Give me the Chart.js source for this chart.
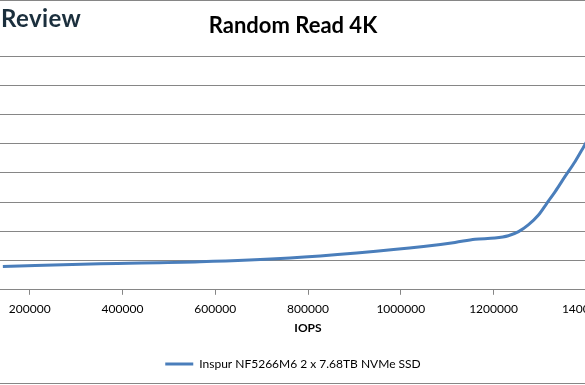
<!DOCTYPE html>
<html>
<head>
<meta charset="utf-8">
<script src="https://cdn.jsdelivr.net/npm/chart.js@4"></script>
<style>
  html, body { margin: 0; padding: 0; background: #fff; overflow: hidden; }
  body { width: 585px; height: 385px; position: relative; }
  #frame {
    position: absolute; left: -103px; top: 0; width: 792px; height: 382px;
    border-top: 1px solid #868686; border-bottom: 1px solid #868686;
  }
  #chart { display: block; }
  #logo {
    position: absolute; left: 1px; top: 6px;
    font: bold 24px Lato, sans-serif; line-height: 24px; letter-spacing: 0.4px; color: #1b2f3d;
  }
</style>
</head>
<body>
<div id="frame"><canvas id="chart" width="792" height="382"></canvas></div>
<div id="logo">Review</div>
<script>
const seriesName = 'Inspur NF5266M6 2 x 7.68TB NVMe SSD';
const iops = [142000, 352000, 567000, 761000, 905000, 1049000, 1117000, 1160000, 1203000, 1232000, 1254000, 1275000, 1297000, 1315000, 1333000, 1354000, 1376000, 1394000, 1425000];
const latency = [0.080, 0.089, 0.096, 0.109, 0.126, 0.148, 0.162, 0.173, 0.177, 0.185, 0.199, 0.222, 0.256, 0.296, 0.336, 0.387, 0.439, 0.488, 0.575];
const xTicks = [0, 200000, 400000, 600000, 800000, 1000000, 1200000, 1400000, 1600000];

const gridColor = '#868686';
const font = 'Lato, "Noto Sans", sans-serif';

const config = {
	type: 'line',
	data: {
		datasets: [
			{
				label: seriesName,
				data: iops.map((x, i) => ({ x: x, y: latency[i] })),
				borderColor: '#4a7ebb',
				backgroundColor: '#4a7ebb',
				borderWidth: 3,
				pointRadius: 0,
				cubicInterpolationMode: 'monotone',
				pointStyle: 'line',
			},
		],
	},
	options: {
		responsive: false,
		animation: false,
		devicePixelRatio: 1,
		layout: { padding: { left: 10, right: 10, top: 0, bottom: 3 } },
		plugins: {
			title: {
				display: true,
				text: 'Random Read 4K',
				color: '#000',
				font: { family: font, size: 22, weight: 'bold' },
				padding: { top: 12, bottom: 16.6 },
			},
			legend: {
				position: 'bottom',
				labels: {
					color: '#000',
					font: { family: font, size: 12 },
					usePointStyle: true,
					pointStyleWidth: 28,
					padding: 10,
				},
			},
			tooltip: { enabled: false },
		},
		scales: {
			x: {
				type: 'linear',
				min: 0,
				max: 1600000,
				afterBuildTicks: (scale) => {
					scale.ticks = xTicks.map((v) => ({ value: v }));
				},
				afterFit: (scale) => {
					scale.paddingLeft = 0;
					scale.paddingRight = 0;
				},
				ticks: {
					color: '#000',
					font: { family: font, size: 12, lineHeight: 1 },
					padding: 8,
					maxRotation: 0,
					autoSkip: false,
					callback: (v) => String(v),
				},
				grid: {
					drawOnChartArea: false,
					drawTicks: true,
					tickLength: 5,
					color: gridColor,
				},
				border: { display: true, color: gridColor },
				title: {
					display: true,
					text: 'IOPS',
					color: '#000',
					font: { family: font, size: 12, weight: 'bold' },
					padding: { top: -2, bottom: 12.8 },
				},
			},
			y: {
				min: 0,
				max: 0.8,
				afterFit: (scale) => {
					scale.width = 30;
				},
				ticks: { display: false, stepSize: 0.1 },
				grid: { color: gridColor, drawTicks: false },
				border: { display: false },
			},
		},
	},
};

new Chart(document.getElementById('chart'), config);
</script>
</body>
</html>
